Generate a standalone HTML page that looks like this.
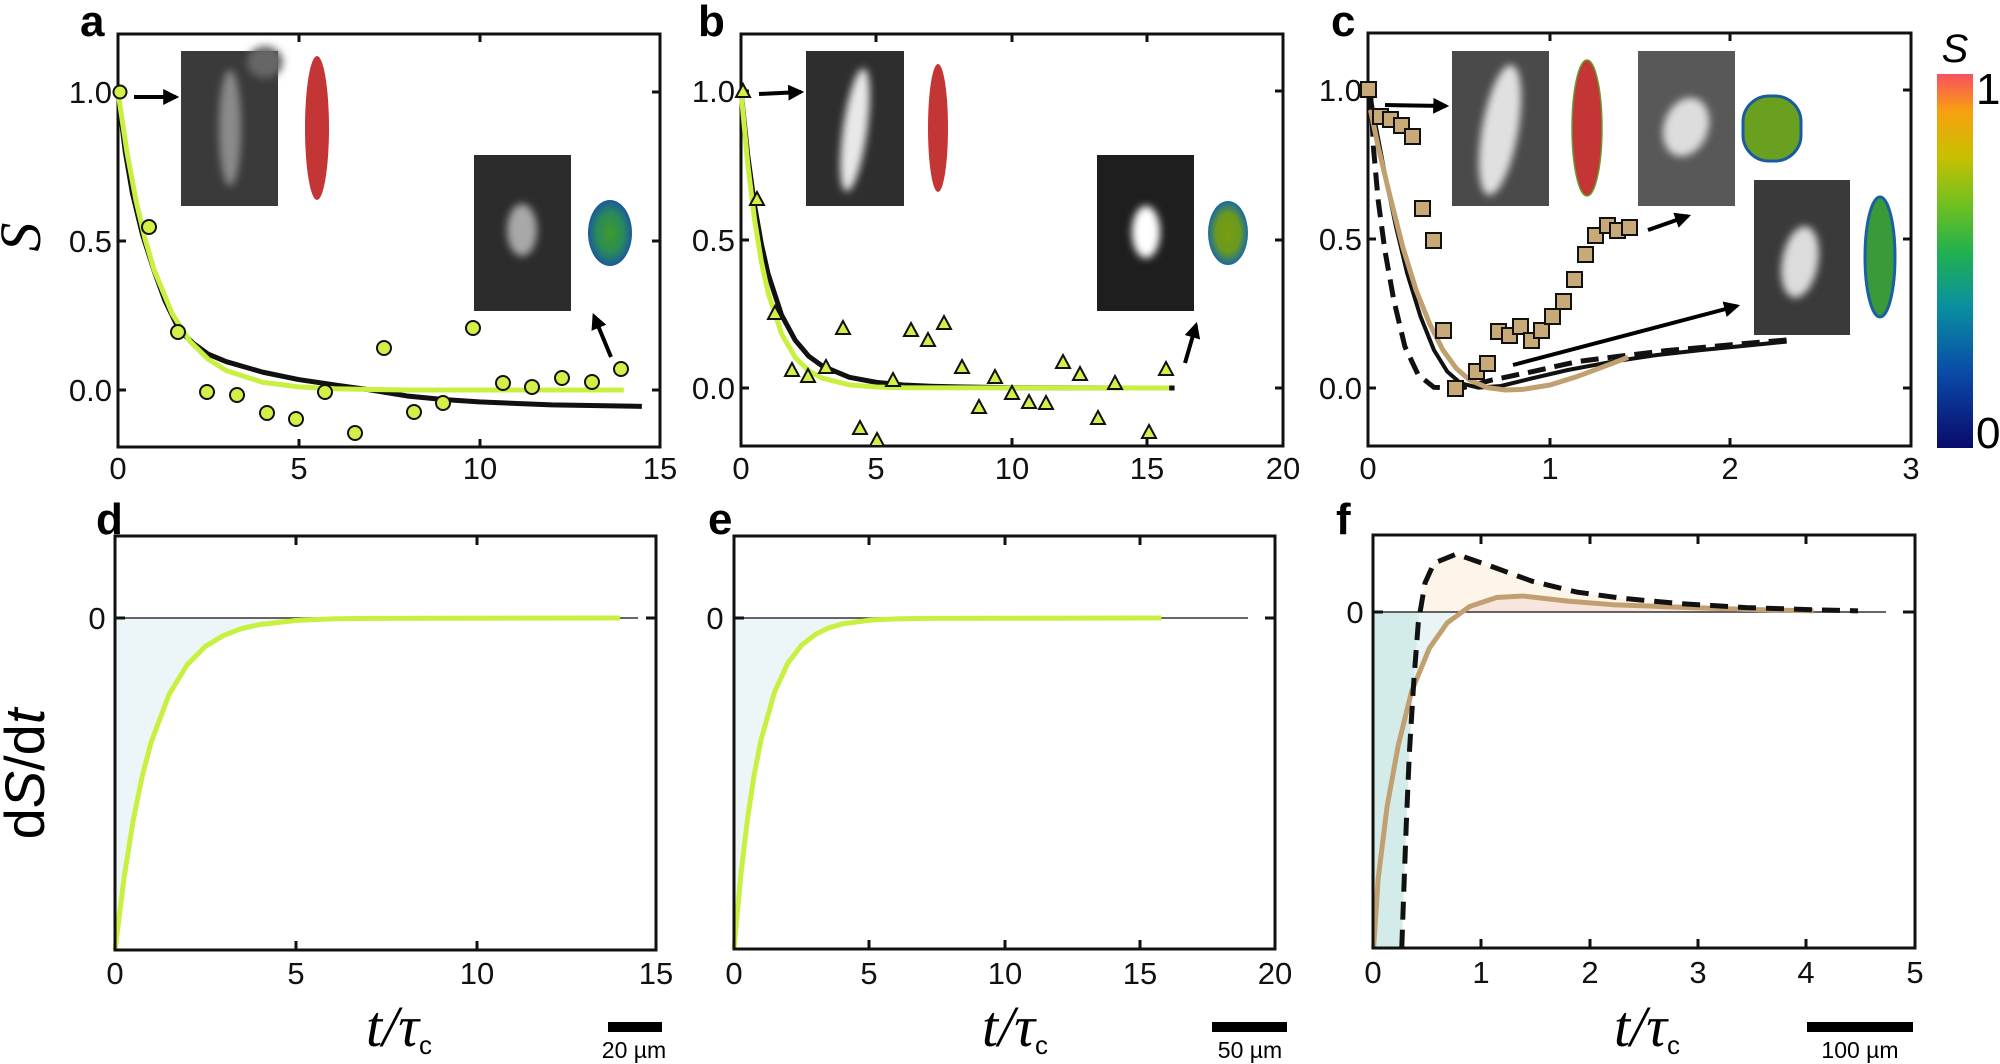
<!DOCTYPE html>
<html><head><meta charset="utf-8"><style>
html,body{margin:0;padding:0;background:#fff}
svg{display:block}
.t{font-family:"Liberation Sans Narrow","Liberation Sans",sans-serif;font-size:31px;fill:#111}
.L{font-family:"Liberation Sans",sans-serif;font-weight:bold;font-size:44px;fill:#000}
.ax{fill:none;stroke:#111;stroke-width:3}
.tk{stroke:#111;stroke-width:3}
</style></head><body>
<svg width="2000" height="1064" viewBox="0 0 2000 1064" xmlns="http://www.w3.org/2000/svg">
<defs>
<marker id="ar" viewBox="0 0 10 10" refX="8" refY="5" markerWidth="4" markerHeight="4" orient="auto"><path d="M0,0 L10,5 L0,10 z" fill="#000"/></marker>
<filter id="bl" x="-50%" y="-50%" width="200%" height="200%"><feGaussianBlur stdDeviation="4"/></filter>
<radialGradient id="bg1"><stop offset="0" stop-color="#3f9a2a"/><stop offset="0.6" stop-color="#2a8a5a"/><stop offset="1" stop-color="#1a5a9a"/></radialGradient>
<radialGradient id="bg2"><stop offset="0" stop-color="#7a9c10"/><stop offset="0.6" stop-color="#6a9a20"/><stop offset="1" stop-color="#1a6aa0"/></radialGradient>
<linearGradient id="cb" x1="0" y1="1" x2="0" y2="0">
<stop offset="0" stop-color="#0a0a6a"/><stop offset="0.2" stop-color="#0a4aa8"/><stop offset="0.38" stop-color="#0a90a0"/><stop offset="0.52" stop-color="#20b050"/><stop offset="0.65" stop-color="#70c020"/><stop offset="0.78" stop-color="#c8c000"/><stop offset="0.9" stop-color="#f8a010"/><stop offset="1" stop-color="#f85060"/></linearGradient>
</defs>

<!-- ===== Panel a ===== -->
<text class="L" x="80" y="36">a</text>
<text x="46" y="243" transform="rotate(-90 40 243)" font-family="Liberation Serif,serif" font-style="italic" font-size="58" text-anchor="middle">S</text>
<rect x="118" y="34" width="542" height="413" class="ax"/>
<g class="tk"><line x1="118" y1="92" x2="126" y2="92"/><line x1="118" y1="241" x2="126" y2="241"/><line x1="118" y1="390" x2="126" y2="390"/>
<line x1="660" y1="92" x2="652" y2="92"/><line x1="660" y1="241" x2="652" y2="241"/><line x1="660" y1="390" x2="652" y2="390"/>
<line x1="299" y1="34" x2="299" y2="42"/><line x1="480" y1="34" x2="480" y2="42"/><line x1="299" y1="447" x2="299" y2="439"/><line x1="480" y1="447" x2="480" y2="439"/></g>
<g class="t" text-anchor="end"><text x="112" y="103">1.0</text><text x="112" y="252">0.5</text><text x="112" y="401">0.0</text></g>
<g class="t" text-anchor="middle"><text x="118" y="479">0</text><text x="299" y="479">5</text><text x="480" y="479">10</text><text x="660" y="479">15</text></g>
<rect x="181" y="51" width="97" height="155" fill="#3a3a3a"/>
<ellipse cx="265" cy="62" rx="18" ry="16" fill="#666" filter="url(#bl)"/>
<ellipse cx="230" cy="128" rx="11" ry="58" fill="#8a8a8a" filter="url(#bl)"/>
<ellipse cx="317" cy="128" rx="12" ry="72" fill="#c43535"/>
<rect x="474" y="155" width="97" height="156" fill="#2c2c2c"/>
<ellipse cx="522" cy="230" rx="15" ry="26" fill="#a8a8a8" filter="url(#bl)"/>
<ellipse cx="610" cy="233" rx="22" ry="33" fill="url(#bg1)"/>
<line x1="134" y1="97" x2="176" y2="97" stroke="#000" stroke-width="4" marker-end="url(#ar)"/>
<line x1="611" y1="357" x2="594" y2="316" stroke="#000" stroke-width="4" marker-end="url(#ar)"/>
<g transform="matrix(36.13 0 0 -298 118 390)">
<polyline vector-effect="non-scaling-stroke" fill="none" stroke="#111" stroke-width="5" stroke-linejoin="round" points="0,1 0.2,0.8 0.4,0.66 0.68,0.52 1,0.40 1.3,0.3 1.7,0.2 2.1,0.155 2.5,0.12 3,0.095 4,0.06 5,0.035 6,0.017 7,0 8,-0.02 9,-0.032 10,-0.04 12,-0.05 14.5,-0.055"/>
<polyline vector-effect="non-scaling-stroke" fill="none" stroke="#c8f040" stroke-width="5" stroke-linejoin="round" points="0,1 0.25,0.797 0.5,0.635 0.75,0.506 1,0.403 1.5,0.256 2,0.162 2.5,0.103 3,0.065 4,0.026 5,0.0106 6,0.004 7,0.0017 8,0 14,0"/>
</g>
<g fill="#d4f048" stroke="#111" stroke-width="2">
<circle cx="120" cy="92" r="6.5"/><circle cx="149" cy="227" r="7"/><circle cx="178" cy="332" r="7"/><circle cx="207" cy="392" r="7"/><circle cx="237" cy="395" r="7"/><circle cx="267" cy="413" r="7"/><circle cx="296" cy="419" r="7"/><circle cx="325" cy="392" r="7"/><circle cx="355" cy="433" r="7"/><circle cx="384" cy="348" r="7"/><circle cx="414" cy="412" r="7"/><circle cx="443" cy="403" r="7"/><circle cx="473" cy="328" r="7"/><circle cx="503" cy="383" r="7"/><circle cx="532" cy="387" r="7"/><circle cx="562" cy="378" r="7"/><circle cx="592" cy="382" r="7"/><circle cx="621" cy="369" r="7"/>
</g>

<!-- ===== Panel b ===== -->
<text class="L" x="698" y="36">b</text>
<rect x="741" y="34" width="542" height="412" class="ax"/>
<g class="tk"><line x1="741" y1="91" x2="749" y2="91"/><line x1="741" y1="240" x2="749" y2="240"/><line x1="741" y1="388" x2="749" y2="388"/>
<line x1="1283" y1="91" x2="1275" y2="91"/><line x1="1283" y1="240" x2="1275" y2="240"/><line x1="1283" y1="388" x2="1275" y2="388"/>
<line x1="876" y1="34" x2="876" y2="42"/><line x1="1012" y1="34" x2="1012" y2="42"/><line x1="1147" y1="34" x2="1147" y2="42"/>
<line x1="876" y1="446" x2="876" y2="438"/><line x1="1012" y1="446" x2="1012" y2="438"/><line x1="1147" y1="446" x2="1147" y2="438"/></g>
<g class="t" text-anchor="end"><text x="735" y="102">1.0</text><text x="735" y="251">0.5</text><text x="735" y="399">0.0</text></g>
<g class="t" text-anchor="middle"><text x="741" y="479">0</text><text x="876" y="479">5</text><text x="1012" y="479">10</text><text x="1147" y="479">15</text><text x="1283" y="479">20</text></g>
<rect x="806" y="51" width="98" height="155" fill="#2e2e2e"/>
<ellipse cx="855" cy="130" rx="12" ry="62" fill="#e8e8e8" transform="rotate(8 855 130)" filter="url(#bl)"/>
<ellipse cx="938" cy="128" rx="10" ry="64" fill="#c43535"/>
<rect x="1097" y="155" width="97" height="156" fill="#1e1e1e"/>
<ellipse cx="1146" cy="232" rx="14" ry="26" fill="#fff" filter="url(#bl)"/>
<ellipse cx="1228" cy="233" rx="20" ry="32" fill="url(#bg2)"/>
<line x1="759" y1="94" x2="801" y2="92" stroke="#000" stroke-width="4" marker-end="url(#ar)"/>
<line x1="1185" y1="363" x2="1196" y2="325" stroke="#000" stroke-width="4" marker-end="url(#ar)"/>
<g transform="matrix(27.1 0 0 -297 741 388)">
<polyline vector-effect="non-scaling-stroke" fill="none" stroke="#111" stroke-width="5" stroke-linejoin="round" points="0,1 0.25,0.782 0.5,0.615 0.75,0.485 1,0.384 1.5,0.245 2,0.161 2.5,0.107 3,0.074 4,0.036 5,0.019 6,0.01 7,0.006 8,0.004 10,0.001 16,0"/>
<polyline vector-effect="non-scaling-stroke" fill="none" stroke="#c8f040" stroke-width="5" stroke-linejoin="round" points="0,1 0.25,0.753 0.5,0.567 0.75,0.426 1,0.321 1.5,0.182 2,0.103 2.5,0.058 3,0.033 4,0.0106 5,0.0034 6,0.001 15.8,0"/>
</g>
<g fill="#d4f048" stroke="#111" stroke-width="2">
<path d="M0,-8 L7,5 L-7,5 z" transform="translate(743,92)"/><path d="M0,-8 L7,5 L-7,5 z" transform="translate(757,200)"/><path d="M0,-8 L7,5 L-7,5 z" transform="translate(775,314)"/><path d="M0,-8 L7,5 L-7,5 z" transform="translate(792,371)"/><path d="M0,-8 L7,5 L-7,5 z" transform="translate(808,377)"/><path d="M0,-8 L7,5 L-7,5 z" transform="translate(826,368)"/><path d="M0,-8 L7,5 L-7,5 z" transform="translate(843,329)"/><path d="M0,-8 L7,5 L-7,5 z" transform="translate(860,429)"/><path d="M0,-8 L7,5 L-7,5 z" transform="translate(877,441)"/><path d="M0,-8 L7,5 L-7,5 z" transform="translate(893,381)"/><path d="M0,-8 L7,5 L-7,5 z" transform="translate(911,331)"/><path d="M0,-8 L7,5 L-7,5 z" transform="translate(928,341)"/><path d="M0,-8 L7,5 L-7,5 z" transform="translate(944,324)"/><path d="M0,-8 L7,5 L-7,5 z" transform="translate(962,368)"/><path d="M0,-8 L7,5 L-7,5 z" transform="translate(979,408)"/><path d="M0,-8 L7,5 L-7,5 z" transform="translate(995,378)"/><path d="M0,-8 L7,5 L-7,5 z" transform="translate(1012,394)"/><path d="M0,-8 L7,5 L-7,5 z" transform="translate(1029,403)"/><path d="M0,-8 L7,5 L-7,5 z" transform="translate(1046,404)"/><path d="M0,-8 L7,5 L-7,5 z" transform="translate(1063,363)"/><path d="M0,-8 L7,5 L-7,5 z" transform="translate(1080,375)"/><path d="M0,-8 L7,5 L-7,5 z" transform="translate(1098,419)"/><path d="M0,-8 L7,5 L-7,5 z" transform="translate(1115,384)"/><path d="M0,-8 L7,5 L-7,5 z" transform="translate(1149,433)"/><path d="M0,-8 L7,5 L-7,5 z" transform="translate(1166,370)"/>
</g>

<!-- ===== Panel c ===== -->
<text class="L" x="1331" y="36">c</text>
<rect x="1368" y="33" width="543" height="413" class="ax"/>
<g class="tk"><line x1="1368" y1="90" x2="1376" y2="90"/><line x1="1368" y1="239" x2="1376" y2="239"/><line x1="1368" y1="388" x2="1376" y2="388"/>
<line x1="1911" y1="90" x2="1903" y2="90"/><line x1="1911" y1="239" x2="1903" y2="239"/><line x1="1911" y1="388" x2="1903" y2="388"/>
<line x1="1550" y1="33" x2="1550" y2="41"/><line x1="1730" y1="33" x2="1730" y2="41"/><line x1="1550" y1="446" x2="1550" y2="438"/><line x1="1730" y1="446" x2="1730" y2="438"/></g>
<g class="t" text-anchor="end"><text x="1362" y="101">1.0</text><text x="1362" y="250">0.5</text><text x="1362" y="399">0.0</text></g>
<g class="t" text-anchor="middle"><text x="1368" y="479">0</text><text x="1550" y="479">1</text><text x="1730" y="479">2</text><text x="1911" y="479">3</text></g>
<rect x="1452" y="51" width="97" height="155" fill="#4a4a4a"/>
<ellipse cx="1500" cy="130" rx="18" ry="66" fill="#e0e0e0" transform="rotate(10 1500 130)" filter="url(#bl)"/>
<ellipse cx="1587" cy="128" rx="15" ry="68" fill="#c43535" stroke="#6a9a30" stroke-width="1.5"/>
<rect x="1638" y="51" width="97" height="155" fill="#585858"/>
<ellipse cx="1686" cy="127" rx="22" ry="30" fill="#ddd" transform="rotate(20 1686 127)" filter="url(#bl)"/>
<rect x="1743" y="96" width="58" height="65" rx="26" fill="#6aa020" stroke="#1a5aa0" stroke-width="3"/>
<rect x="1754" y="180" width="96" height="155" fill="#3a3a3a"/>
<ellipse cx="1800" cy="262" rx="18" ry="36" fill="#dcdcdc" transform="rotate(10 1800 262)" filter="url(#bl)"/>
<ellipse cx="1880" cy="257" rx="15" ry="60" fill="#3a9a3a" stroke="#1a60a0" stroke-width="3"/>
<line x1="1385" y1="105" x2="1446" y2="106" stroke="#000" stroke-width="4" marker-end="url(#ar)"/>
<line x1="1648" y1="230" x2="1688" y2="216" stroke="#000" stroke-width="4" marker-end="url(#ar)"/>
<line x1="1513" y1="365" x2="1737" y2="306" stroke="#000" stroke-width="4" marker-end="url(#ar)"/>
<g transform="translate(1300,0) scale(0.44643,0.33333)" fill="none">
<polyline vector-effect="non-scaling-stroke" stroke="#111" stroke-width="5" stroke-dasharray="18,9" points="158,275 165,450 175,600 190,750 210,900 235,1040 265,1125 300,1162 360,1165 430,1140 520,1115 620,1085 720,1068 820,1052 920,1040 1000,1030 1090,1020"/>
<polyline vector-effect="non-scaling-stroke" stroke="#111" stroke-width="4" stroke-linejoin="round" points="155,268 170,380 190,520 215,680 240,820 270,950 300,1050 330,1115 360,1150 400,1163 450,1158 520,1135 600,1110 700,1085 800,1065 900,1050 1000,1037 1090,1025"/>
<polyline vector-effect="non-scaling-stroke" stroke="#c0a070" stroke-width="5" stroke-linejoin="round" points="158,330 175,440 200,580 230,740 260,870 290,970 320,1050 350,1105 380,1140 420,1163 460,1170 500,1168 560,1155 620,1130 680,1100 735,1072"/>
</g>
<g fill="#c8a978" stroke="#111" stroke-width="2">
<rect x="1361" y="82" width="15" height="15"/><rect x="1373" y="109" width="15" height="15"/><rect x="1383" y="112" width="15" height="15"/><rect x="1394" y="118" width="15" height="15"/><rect x="1405" y="129" width="15" height="15"/><rect x="1415" y="201" width="15" height="15"/><rect x="1426" y="233" width="15" height="15"/><rect x="1436" y="323" width="15" height="15"/><rect x="1448" y="381" width="15" height="15"/><rect x="1469" y="364" width="15" height="15"/><rect x="1480" y="356" width="15" height="15"/><rect x="1491" y="324" width="15" height="15"/><rect x="1502" y="328" width="15" height="15"/><rect x="1513" y="319" width="15" height="15"/><rect x="1524" y="333" width="15" height="15"/><rect x="1534" y="323" width="15" height="15"/><rect x="1545" y="309" width="15" height="15"/><rect x="1556" y="294" width="15" height="15"/><rect x="1567" y="272" width="15" height="15"/><rect x="1578" y="247" width="15" height="15"/><rect x="1588" y="228" width="15" height="15"/><rect x="1600" y="218" width="15" height="15"/><rect x="1610" y="223" width="15" height="15"/><rect x="1622" y="220" width="15" height="15"/>
</g>
<rect x="1937" y="74" width="36" height="374" fill="url(#cb)"/>
<text x="1955" y="62" font-family="Liberation Sans,sans-serif" font-style="italic" font-size="40" text-anchor="middle">S</text>
<text x="1976" y="104" font-family="Liberation Sans Narrow,Liberation Sans,sans-serif" font-size="44">1</text>
<text x="1976" y="448" font-family="Liberation Sans Narrow,Liberation Sans,sans-serif" font-size="44">0</text>

<!-- ===== Panel d ===== -->
<text class="L" x="96" y="534">d</text>
<text transform="translate(44,774) rotate(-90)" text-anchor="middle" font-family="Liberation Sans,sans-serif" font-size="56">d<tspan font-style="italic">S</tspan>/d<tspan font-style="italic">t</tspan></text>
<g transform="matrix(36.07 0 0 332 115 618)">
<polygon fill="#ecf5f8" points="0,1 0.25,0.783 0.5,0.612 0.75,0.479 1,0.375 1.5,0.23 2,0.141 2.5,0.086 3,0.053 3.5,0.032 4,0.02 5,0.0074 6,0.0028 7,0.001 14,0 0,0"/>
</g>
<line x1="115" y1="618" x2="638" y2="618" stroke="#333" stroke-width="1.5"/>
<g transform="matrix(36.07 0 0 332 115 618)">
<polyline vector-effect="non-scaling-stroke" fill="none" stroke="#c8f040" stroke-width="5" stroke-linejoin="round" points="0,1 0.25,0.783 0.5,0.612 0.75,0.479 1,0.375 1.5,0.23 2,0.141 2.5,0.086 3,0.053 3.5,0.032 4,0.02 5,0.0074 6,0.0028 7,0.001 14,0"/>
</g>
<rect x="115" y="536" width="541" height="414" class="ax"/>
<g class="tk"><line x1="115" y1="618" x2="125" y2="618"/><line x1="656" y1="618" x2="646" y2="618"/>
<line x1="296" y1="536" x2="296" y2="545"/><line x1="477" y1="536" x2="477" y2="545"/><line x1="296" y1="950" x2="296" y2="941"/><line x1="477" y1="950" x2="477" y2="941"/></g>
<text class="t" x="97" y="629" text-anchor="middle">0</text>
<g class="t" text-anchor="middle"><text x="115" y="984">0</text><text x="296" y="984">5</text><text x="477" y="984">10</text><text x="656" y="984">15</text></g>
<text x="366" y="1046" font-family="Liberation Serif,serif" font-style="italic" font-size="58">t/τ<tspan font-style="normal" font-family="Liberation Sans,sans-serif" font-size="26" dy="8">c</tspan></text>
<rect x="608" y="1022" width="54" height="10" fill="#000"/>
<text x="634" y="1058" text-anchor="middle" font-family="Liberation Sans Narrow,Liberation Sans,sans-serif" font-size="23">20 µm</text>

<!-- ===== Panel e ===== -->
<text class="L" x="708" y="534">e</text>
<g transform="matrix(27.05 0 0 331 734 618)">
<polygon fill="#ecf5f8" points="0,1 0.25,0.779 0.5,0.607 0.75,0.472 1,0.368 1.5,0.223 2,0.135 2.5,0.082 3,0.05 3.5,0.03 4,0.018 5,0.0067 6,0.0025 7,0.001 15.8,0 0,0"/>
</g>
<line x1="734" y1="618" x2="1248" y2="618" stroke="#333" stroke-width="1.5"/>
<g transform="matrix(27.05 0 0 331 734 618)">
<polyline vector-effect="non-scaling-stroke" fill="none" stroke="#c8f040" stroke-width="5" stroke-linejoin="round" points="0,1 0.25,0.779 0.5,0.607 0.75,0.472 1,0.368 1.5,0.223 2,0.135 2.5,0.082 3,0.05 3.5,0.03 4,0.018 5,0.0067 6,0.0025 7,0.001 15.8,0"/>
</g>
<rect x="734" y="536" width="541" height="413" class="ax"/>
<g class="tk"><line x1="734" y1="618" x2="744" y2="618"/><line x1="1275" y1="618" x2="1265" y2="618"/>
<line x1="869" y1="536" x2="869" y2="545"/><line x1="1005" y1="536" x2="1005" y2="545"/><line x1="1140" y1="536" x2="1140" y2="545"/>
<line x1="869" y1="949" x2="869" y2="940"/><line x1="1005" y1="949" x2="1005" y2="940"/><line x1="1140" y1="949" x2="1140" y2="940"/></g>
<text class="t" x="715" y="629" text-anchor="middle">0</text>
<g class="t" text-anchor="middle"><text x="734" y="984">0</text><text x="869" y="984">5</text><text x="1005" y="984">10</text><text x="1140" y="984">15</text><text x="1275" y="984">20</text></g>
<text x="982" y="1046" font-family="Liberation Serif,serif" font-style="italic" font-size="58">t/τ<tspan font-style="normal" font-family="Liberation Sans,sans-serif" font-size="26" dy="8">c</tspan></text>
<rect x="1212" y="1022" width="75" height="10" fill="#000"/>
<text x="1250" y="1058" text-anchor="middle" font-family="Liberation Sans Narrow,Liberation Sans,sans-serif" font-size="23">50 µm</text>

<!-- ===== Panel f ===== -->
<text class="L" x="1336" y="534">f</text>
<g transform="translate(1300,500) scale(0.44643,0.36101)">
<polygon fill="#e9f5f5" points="163,311 163,1240 165,1240 175,1050 195,850 220,680 250,530 290,410 330,340 345,311"/>
<polygon fill="#d3ecea" points="163,311 163,1240 228,1240 232,1100 238,900 245,700 255,500 265,340 268,311"/>
<polygon fill="#fdf4ea" points="268,311 280,230 300,175 350,150 420,180 520,225 620,255 720,272 850,287 1000,298 1150,304 1250,307 1250,311"/>
<polygon fill="#f9e5dd" points="345,311 380,295 440,270 500,266 600,280 700,290 850,297 1000,303 1150,307 1150,311"/>
</g>
<line x1="1373" y1="612" x2="1886" y2="612" stroke="#333" stroke-width="1.5"/>
<g transform="translate(1300,500) scale(0.44643,0.36101)" fill="none">
<polyline vector-effect="non-scaling-stroke" stroke="#c0a070" stroke-width="5" stroke-linejoin="round" points="165,1240 175,1050 195,850 220,680 250,530 290,410 330,340 380,295 440,270 500,266 600,280 700,290 850,297 1000,303 1150,307"/>
<polyline vector-effect="non-scaling-stroke" stroke="#111" stroke-width="5" stroke-dasharray="18,10" points="228,1240 232,1100 238,900 245,700 255,500 265,340 280,230 300,175 350,150 420,180 520,225 620,255 720,272 850,287 1000,298 1150,304 1250,307"/>
</g>
<rect x="1373" y="535" width="542" height="413" class="ax"/>
<g class="tk"><line x1="1373" y1="612" x2="1383" y2="612"/><line x1="1915" y1="612" x2="1903" y2="612"/>
<line x1="1481" y1="535" x2="1481" y2="544"/><line x1="1590" y1="535" x2="1590" y2="544"/><line x1="1698" y1="535" x2="1698" y2="544"/><line x1="1806" y1="535" x2="1806" y2="544"/>
<line x1="1481" y1="948" x2="1481" y2="939"/><line x1="1590" y1="948" x2="1590" y2="939"/><line x1="1698" y1="948" x2="1698" y2="939"/><line x1="1806" y1="948" x2="1806" y2="939"/></g>
<text class="t" x="1355" y="623" text-anchor="middle">0</text>
<g class="t" text-anchor="middle"><text x="1373" y="983">0</text><text x="1481" y="983">1</text><text x="1590" y="983">2</text><text x="1698" y="983">3</text><text x="1806" y="983">4</text><text x="1915" y="983">5</text></g>
<text x="1614" y="1046" font-family="Liberation Serif,serif" font-style="italic" font-size="58">t/τ<tspan font-style="normal" font-family="Liberation Sans,sans-serif" font-size="26" dy="8">c</tspan></text>
<rect x="1807" y="1022" width="106" height="10" fill="#000"/>
<text x="1860" y="1058" text-anchor="middle" font-family="Liberation Sans Narrow,Liberation Sans,sans-serif" font-size="23">100 µm</text>
</svg>
</body></html>
